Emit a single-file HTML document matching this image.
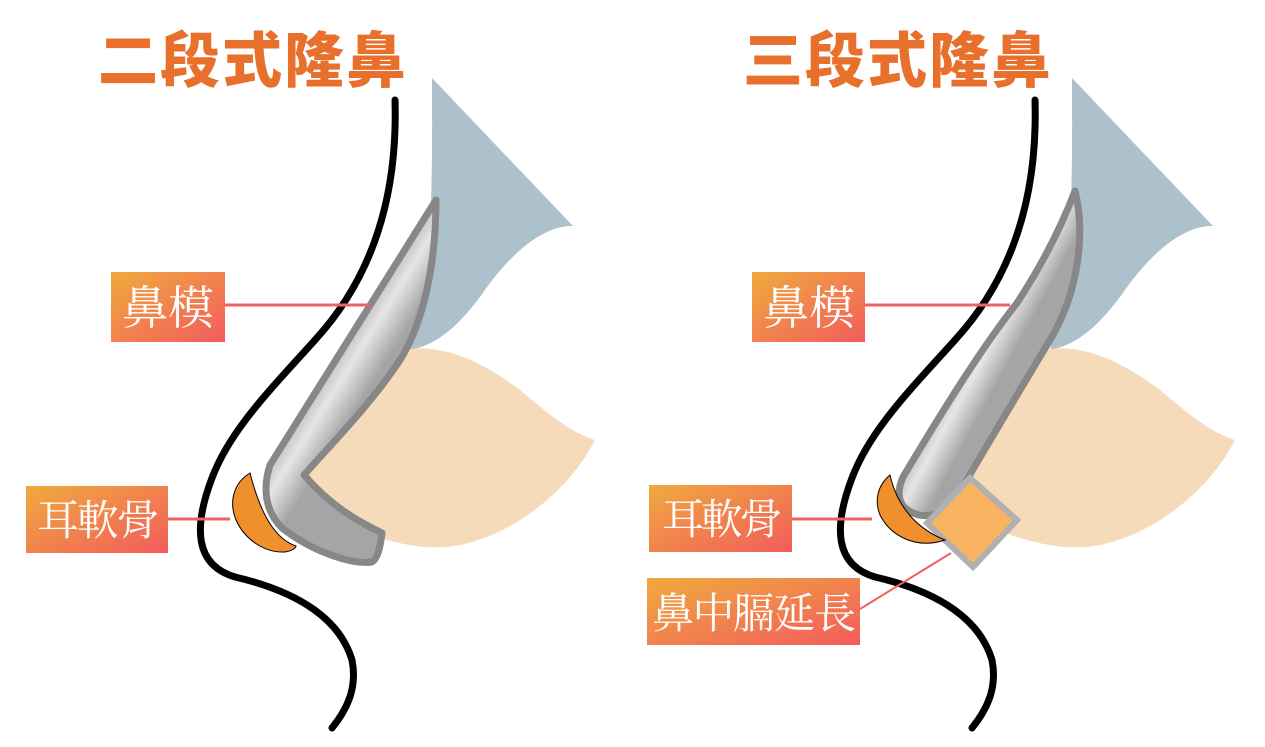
<!DOCTYPE html>
<html><head><meta charset="utf-8">
<style>
html,body{margin:0;padding:0;background:#fff;}
svg{display:block;}
.t{font-family:"Liberation Sans","Noto Sans CJK TC",sans-serif;font-weight:900;font-size:60px;fill:#e8702c;}
.l{font-family:"Liberation Serif","Noto Serif CJK TC","Noto Serif CJK SC",serif;font-size:46px;fill:#fff;}
.s{font-size:42px;}
</style></head>
<body>
<svg width="1265" height="747" viewBox="0 0 1265 747" xmlns="http://www.w3.org/2000/svg">
<defs>
<linearGradient id="lab" x1="0" y1="0" x2="1" y2="1">
<stop offset="0" stop-color="#f0aa3e"/><stop offset="1" stop-color="#f25c5c"/>
</linearGradient>
<linearGradient id="met1" gradientUnits="userSpaceOnUse" x1="336" y1="335" x2="384" y2="365">
<stop offset="0" stop-color="#a5a5a5"/><stop offset="0.5" stop-color="#e6e6e6"/><stop offset="1" stop-color="#a5a5a5"/>
</linearGradient>
<linearGradient id="met2" gradientUnits="userSpaceOnUse" x1="968" y1="333" x2="1012" y2="357">
<stop offset="0" stop-color="#a5a5a5"/><stop offset="0.5" stop-color="#e6e6e6"/><stop offset="1" stop-color="#a5a5a5"/>
</linearGradient>
<g id="base">
<path d="M432,78 L573,226 C540,225 505,260 480,297 C455,330 435,345 410,350 L428,250 C433,200 432,130 432,78 Z" fill="#adc1cd"/>
<path d="M405,350 C440,343 480,360 520,390 C550,415 570,432 595,440 C570,490 510,540 447,547 C420,549 395,543 370,535 L300,470 Z" fill="#f5dbb9"/>
<path d="M395,100 C398,200 370,280 315,340 C270,390 230,430 212,478 C193,528 195,565 235,577 C300,592 340,620 352,660 C358,690 345,712 332,728" fill="none" stroke="#000" stroke-width="7" stroke-linecap="round"/>
</g>
</defs>

<text class="t" x="98" y="82" textLength="308">二段式隆鼻</text>
<text class="t" x="743" y="82" textLength="308">三段式隆鼻</text>

<!-- LEFT -->
<use href="#base"/>
<path d="M436,200 C436,260 425,320 400,360 C370,405 335,440 304,475 C330,505 355,520 382,533 C380,548 378,558 372,562 C350,565 310,550 282,528 C266,512 262,490 270,465 Z" fill="url(#met1)" stroke="#878787" stroke-width="7" stroke-linejoin="round"/>
<path d="M250,473 C235,482 228,500 236,520 C245,540 265,553 285,552 C292,551 296,548 296,546 C278,540 262,520 250,473 Z" fill="#f0902c" stroke="#000" stroke-width="1"/>
<rect x="111" y="272" width="114" height="70" fill="url(#lab)"/>
<text class="l" x="122" y="324">鼻模</text>
<line x1="225" y1="305" x2="370" y2="305" stroke="#f06060" stroke-width="3"/>
<rect x="26" y="486" width="142" height="67" fill="url(#lab)"/>
<text class="l s" x="37" y="535" textLength="122">耳軟骨</text>
<line x1="168" y1="519" x2="230" y2="519" stroke="#f06060" stroke-width="3"/>

<!-- RIGHT -->
<use href="#base" transform="translate(640,0)"/>
<path d="M1075,191 C1085,230 1080,290 1050,340 C1020,390 990,440 955,500 C940,518 920,520 905,508 C897,500 898,488 903,477 C940,415 980,350 1017,303 C1040,268 1060,230 1075,191 Z" fill="url(#met2)" stroke="#878787" stroke-width="7" stroke-linejoin="round"/>
<path d="M970,478 L1017,520 L973,567 L927,523 Z" fill="#f7b360" stroke="#b0b0b0" stroke-width="6"/>
<path d="M890,475 C878,485 874,500 880,515 C890,535 915,550 945,540 C920,530 898,510 890,475 Z" fill="#f0902c" stroke="#000" stroke-width="1"/>
<rect x="752" y="272" width="113" height="70" fill="url(#lab)"/>
<text class="l" x="763" y="324">鼻模</text>
<line x1="865" y1="305" x2="1010" y2="305" stroke="#f06060" stroke-width="3"/>
<rect x="649" y="485" width="143" height="67" fill="url(#lab)"/>
<text class="l s" x="662" y="534" textLength="120">耳軟骨</text>
<line x1="792" y1="519" x2="872" y2="519" stroke="#f06060" stroke-width="3"/>
<rect x="647" y="578" width="213" height="67" fill="url(#lab)"/>
<text class="l s" x="652" y="628" textLength="204">鼻中膈延長</text>
<line x1="860" y1="609" x2="951" y2="553" stroke="#f06060" stroke-width="2"/>
</svg>
</body></html>
